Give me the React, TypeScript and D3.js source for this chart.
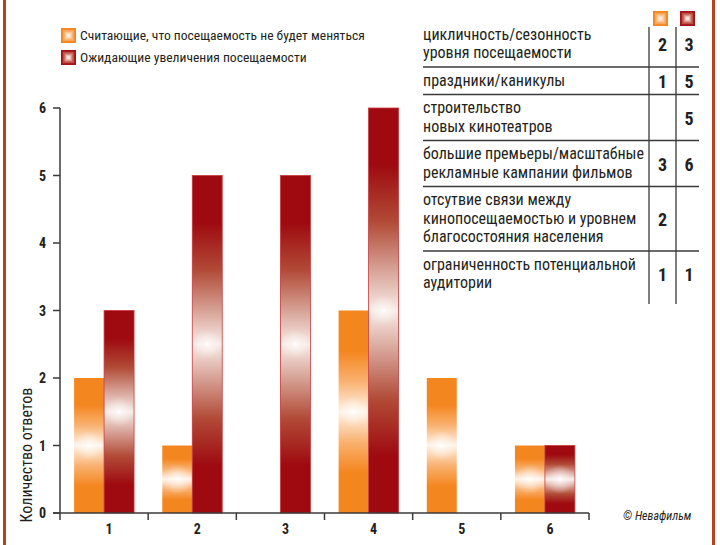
import React from 'react';
import * as d3 from 'd3';

const categories = ['1', '2', '3', '4', '5', '6'];
const seriesKeys = ['stable', 'increase'];
const seriesNames = [
  'Считающие, что посещаемость не будет меняться',
  'Ожидающие увеличения посещаемости',
];
const stableValues = [2, 1, 0, 3, 2, 1];
const increaseValues = [3, 5, 5, 6, 0, 1];
const yTicks = [0, 1, 2, 3, 4, 5, 6];
const yAxisTitle = 'Количество ответов';
const credit = '© Невафильм';

const reasonLines = [
  ['цикличность/сезонность', 'уровня посещаемости'],
  ['праздники/каникулы'],
  ['строительство', 'новых кинотеатров'],
  ['большие премьеры/масштабные', 'рекламные кампании фильмов'],
  ['отсутвие связи между', 'кинопосещаемостью и уровнем', 'благосостояния населения'],
  ['ограниченность потенциальной', 'аудитории'],
];
const reasonStable = [2, 1, 0, 3, 2, 1];
const reasonIncrease = [3, 5, 5, 6, 0, 1];

const FONT = "'Liberation Sans Narrow','Arial Narrow','Roboto Condensed','Liberation Sans',Arial,sans-serif";
const TEXT = '#231f20';
const AXIS = '#3a3a3a';
const BORDER = '#b5421c';

function Swatch({ x, y, kind }: { x: number; y: number; kind: string }) {
  const cols = kind === 'stable'
    ? ['#f4861f', '#f8a65a', '#fbc89a', '#fdeadb']
    : ['#a3121a', '#bd4f45', '#d99386', '#f5e0da'];
  const s = 15;
  return (
    <g>
      {cols.map((c, i) => (
        <rect key={i} x={x + i * 1.8} y={y + i * 1.8} width={s - i * 3.6} height={s - i * 3.6} fill={c} />
      ))}
    </g>
  );
}

export default function App() {
  const W = 720, H = 545;
  const y = d3.scaleLinear().domain([0, 6]).range([513, 108]);
  const xAxisBand = d3.scaleBand<string>().domain(categories).range([60, 589]);
  const xBar = d3.scaleBand<string>().domain(categories).range([60, 589]).paddingInner(0.32).paddingOuter(0.16);
  const xSeries = d3.scaleBand<string>().domain(seriesKeys).range([0, xBar.bandwidth()]);

  const data = categories.map((c, i) => ({ c, stable: stableValues[i], increase: increaseValues[i] }));

  const tickXs = [...categories.map((c) => xAxisBand(c) as number), xAxisBand.range()[1]];

  // table layout
  const lineH = 18.5;
  const rowHeights = reasonLines.map((l) => l.length * lineH + 9);
  const tableBottomSep = 67;
  const tableTop = tableBottomSep - rowHeights[0];
  const rowTops: number[] = [];
  rowHeights.reduce((acc, h) => { rowTops.push(acc); return acc + h; }, tableTop);
  const tableEnd = rowTops[rowTops.length - 1] + rowHeights[rowHeights.length - 1];
  const col1 = 649, col2 = 676;
  const tLeft = 423, tRight = 699;

  return (
    <svg width={W} height={H} style={{ position: 'absolute', left: 0, top: 0, background: '#fff' }} fontFamily={FONT}>
      <defs>
        <linearGradient id="gStable" x1="0" y1="0" x2="0" y2="1">
          <stop offset="0" stopColor="#f4861f" />
          <stop offset="0.2" stopColor="#f4861f" />
          <stop offset="0.35" stopColor="#f9b170" />
          <stop offset="0.5" stopColor="#fff3e8" />
          <stop offset="0.65" stopColor="#f9b170" />
          <stop offset="0.8" stopColor="#f4861f" />
          <stop offset="1" stopColor="#f4861f" />
        </linearGradient>
        <linearGradient id="gIncrease" x1="0" y1="0" x2="0" y2="1">
          <stop offset="0" stopColor="#9e0a10" />
          <stop offset="0.14" stopColor="#9e0a10" />
          <stop offset="0.28" stopColor="#b14a36" />
          <stop offset="0.5" stopColor="#f7ebe6" />
          <stop offset="0.72" stopColor="#b14a36" />
          <stop offset="0.86" stopColor="#9e0a10" />
          <stop offset="1" stopColor="#9e0a10" />
        </linearGradient>
        <radialGradient id="glow" cx="0.5" cy="0.5" r="0.5">
          <stop offset="0" stopColor="#ffffff" stopOpacity="1" />
          <stop offset="0.2" stopColor="#ffffff" stopOpacity="0.55" />
          <stop offset="1" stopColor="#ffffff" stopOpacity="0" />
        </radialGradient>
      </defs>

      {/* frame lines */}
      <line x1={4.5} x2={4.5} y1={0} y2={H} stroke={BORDER} strokeWidth={3} />
      <line x1={713.5} x2={713.5} y1={0} y2={H} stroke={BORDER} strokeWidth={3} />

      {/* legend */}
      {seriesKeys.map((k, i) => (
        <g key={k}>
          <Swatch x={61} y={28 + i * 22} kind={k} />
          <text x={80} y={40 + i * 22} fontSize={13.6} fill={TEXT}>{seriesNames[i]}</text>
        </g>
      ))}

      {/* bars */}
      {data.map((d) => (
        <g key={d.c} transform={`translate(${xBar(d.c)},0)`}>
          {seriesKeys.map((k) => {
            const v = (d as any)[k] as number;
            if (!v) return null;
            const bx = xSeries(k) as number;
            const bw = xSeries.bandwidth();
            const top = y(v);
            const h = y(0) - top;
            const cy = top + h / 2;
            const gs = bw * 1.0;
            return (
              <g key={k}>
                <rect x={bx} y={top} width={bw} height={h} fill={k === 'stable' ? 'url(#gStable)' : 'url(#gIncrease)'}
                  stroke={k === 'stable' ? 'none' : '#c83a3e'} strokeWidth={0.8} />
                <rect x={bx + bw / 2 - gs / 2} y={cy - gs / 2} width={gs} height={gs} fill="url(#glow)" />
              </g>
            );
          })}
        </g>
      ))}

      {/* y axis */}
      <line x1={60} x2={60} y1={y(6)} y2={y(0)} stroke={AXIS} strokeWidth={1.5} />
      {yTicks.map((t) => (
        <g key={t}>
          <line x1={53} x2={60} y1={y(t)} y2={y(t)} stroke={AXIS} strokeWidth={1.5} />
          <text x={46} y={y(t) + 5} textAnchor="end" fontSize={14} fontWeight="bold" fill={TEXT}>{t}</text>
        </g>
      ))}
      <text transform={`translate(32,${455}) rotate(-90)`} textAnchor="middle" fontSize={16} fill={TEXT}>{yAxisTitle}</text>

      {/* x axis */}
      <line x1={53} x2={xAxisBand.range()[1]} y1={y(0)} y2={y(0)} stroke={AXIS} strokeWidth={1.5} />
      {tickXs.map((tx, i) => (
        <line key={i} x1={tx} x2={tx} y1={y(0)} y2={y(0) + 7} stroke={AXIS} strokeWidth={1.5} />
      ))}
      {categories.map((c) => (
        <text key={c} x={(xAxisBand(c) as number) + xAxisBand.bandwidth() / 2 + 5} y={534} textAnchor="middle"
          fontSize={14} fontWeight="bold" fill={TEXT}>{c}</text>
      ))}

      <text x={623} y={520} fontSize={12} fontStyle="italic" fill={TEXT}>{credit}</text>

      {/* table */}
      <Swatch x={653} y={11} kind="stable" />
      <Swatch x={680} y={11} kind="increase" />
      <line x1={col1} x2={col1} y1={tableTop + 6} y2={tableEnd + 7} stroke={AXIS} strokeWidth={1.3} />
      <line x1={col2} x2={col2} y1={tableTop + 6} y2={tableEnd + 7} stroke={AXIS} strokeWidth={1.3} />
      {reasonLines.map((lines, r) => {
        const top = rowTops[r];
        const hgt = rowHeights[r];
        const c = top + hgt / 2;
        return (
          <g key={r}>
            {lines.map((ln, i) => (
              <text key={i} x={tLeft} y={c + 5 + (i - (lines.length - 1) / 2) * lineH} fontSize={16} fill={TEXT}>{ln}</text>
            ))}
            {reasonStable[r] > 0 && (
              <text x={(col1 + col2) / 2} y={c + 7} textAnchor="middle" fontSize={18} fontWeight="bold" fill={TEXT}>{reasonStable[r]}</text>
            )}
            {reasonIncrease[r] > 0 && (
              <text x={col2 + 13} y={c + 7} textAnchor="middle" fontSize={18} fontWeight="bold" fill={TEXT}>{reasonIncrease[r]}</text>
            )}
            {r < reasonLines.length - 1 && (
              <line x1={tLeft} x2={tRight} y1={top + hgt} y2={top + hgt} stroke={AXIS} strokeWidth={1.3} />
            )}
          </g>
        );
      })}
    </svg>
  );
}
